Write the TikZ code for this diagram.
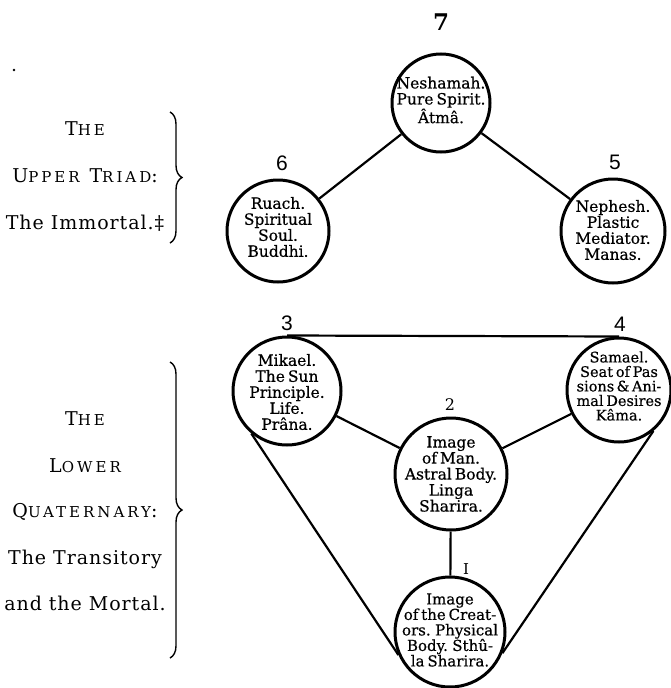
\documentclass[tikz,border=0pt]{standalone}
\usepackage{fontspec}
\setmainfont{DejaVu Serif}
\newfontfamily\numsans{Liberation Sans}
\newfontfamily\circfont[WordSpace=0.6,FakeBold=0.5]{DejaVu Serif}
\newfontfamily\lblfont[LetterSpace=5]{DejaVu Serif}
\newfontfamily\lblscfont[LetterSpace=20]{DejaVu Serif}
\usetikzlibrary{decorations.pathreplacing}
\newcommand\sck[2]{#1{\fontsize{15}{15}\selectfont #2}}
\tikzset{
  ring/.style={circle, draw, line width=3pt, inner sep=0pt},
  ringtext/.style={align=center, inner sep=0pt, font=\circfont\fontsize{15.5}{16}\selectfont},
  link/.style={line width=2.2pt},
  numlbl/.style={font=\numsans\fontsize{21}{21}\selectfont},
  sidetext/.style={font=\lblfont\fontsize{19}{19}\selectfont, anchor=base},
  sidesc/.style={font=\lblscfont\fontsize{19}{19}\selectfont, anchor=base},
  bracestyle/.style={decorate, decoration={brace, amplitude=12pt}, line width=1.4pt}
}
\begin{document}
\begin{tikzpicture}[x=1pt,y=-1pt]
\useasboundingbox (0,0) rectangle (671,688);
% stray dot
\fill (14,70) circle (1.4pt);
% circles
\node[ring, minimum size=98pt] (c7) at (441,103) {};
\node[ring, minimum size=102pt] (c6) at (278,231) {};
\node[ring, minimum size=104pt] (c5) at (613,231) {};
\node[ring, minimum size=108pt] (c3) at (287,391) {};
\node[ring, minimum size=104pt] (c4) at (619,390) {};
\node[ring, minimum size=112pt] (c2) at (451,474) {};
\node[ring, minimum size=110pt] (c1) at (450,632) {};
% circle texts
\node[ringtext] (t7) at ([yshift=3pt]c7.center) {Neshamah.\\Pure Spirit.\\Âtmâ.};
\node[ringtext] (t6) at ([yshift=4pt]c6.center) {Ruach.\\Spiritual\\Soul.\\Buddhi.};
\node[ringtext] (t5) at ([yshift=1pt]c5.center) {Nephesh.\\Plastic\\Mediator.\\Manas.};
\node[ringtext] (t3) at ([yshift=-1pt]c3.center) {Mikael.\\The Sun\\Principle.\\Life.\\Prâna.};
\node[ringtext, font=\circfont\fontsize{14.5}{14.5}\selectfont] (t4) at ([yshift=4pt]c4.center) {Samael.\\Seat of Pas\\sions\,\&\,Ani-\\mal Desires\\Kâma.};
\node[ringtext] (t2) at ([yshift=0pt]c2.center) {Image\\of Man.\\Astral Body.\\Linga\\Sharira.};
\node[ringtext, font=\circfont\fontsize{15}{15.5}\selectfont] (t1) at ([yshift=2pt]c1.center) {Image\\of the Creat-\\ors. Physical\\Body. Sthû-\\la Sharira.};
% numbers
\node[font=\bfseries\fontsize{23}{23}\selectfont] (n7) at (441,22) {7};
\node[numlbl] (n6) at (282,163) {6};
\node[numlbl] (n5) at (615,162) {5};
\node[numlbl] (n3) at (287,323) {3};
\node[numlbl] (n4) at (620,324) {4};
\node[font=\fontsize{16}{16}\selectfont] (n2) at (450,405) {2};
\node[font=\fontsize{15}{15}\selectfont] (n1) at (466,569) {I};
% connectors
\draw[link] (c7) -- (c6);
\draw[link] (c7) -- (c5);
\draw[link] (c3.north) -- (c4.north);
\draw[link] (c3) -- (c2);
\draw[link] (c4) -- (c2);
\draw[link] (c2) -- (c1);
\draw[link] (c3.230) -- (c1.204);
\draw[link] (c4.310) -- (c1.338);
% side labels
\node[sidesc] (u1) at (85,135) {\sck{T}{HE}};
\node[sidesc] (u2) at (85,182) {\sck{U}{PPER} \sck{T}{RIAD}:};
\node[sidetext] (u3) at (85,229) {The Immortal.‡};
\node[sidesc] (l1) at (85,425) {\sck{T}{HE}};
\node[sidesc] (l2) at (85,472) {\sck{L}{OWER}};
\node[sidesc] (l3) at (85,517) {\sck{Q}{UATERNARY}:};
\node[sidetext] (l4) at (85,564) {The Transitory};
\node[sidetext] (l5) at (85,610) {and the Mortal.};
% braces
\coordinate (ub1) at (170,112);
\coordinate (ub2) at (170,243);
\coordinate (lb1) at (170,362);
\coordinate (lb2) at (170,658);
\draw[bracestyle] (ub1) -- (ub2);
\draw[bracestyle] (lb1) -- (lb2);
\end{tikzpicture}
\end{document}
